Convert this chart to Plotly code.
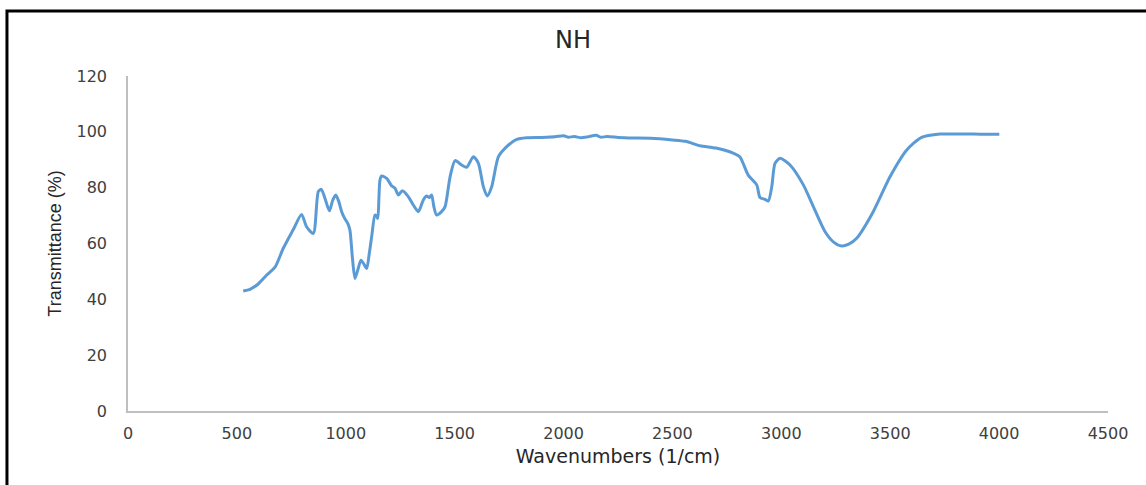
import plotly.graph_objects as go

# IR spectrum of the NH sample: wavenumber (1/cm) vs transmittance (%)
wavenumber = [
    529, 560, 598, 637, 675, 713, 759, 797, 820, 851,
    874, 888, 905, 925, 940, 954, 968, 981, 995, 1009,
    1019, 1030, 1042, 1055, 1070, 1084, 1096, 1108, 1119, 1134,
    1140, 1147, 1152, 1157, 1165, 1188, 1211, 1226, 1241, 1260,
    1287, 1310, 1333, 1356, 1371, 1384, 1394, 1405, 1417, 1440,
    1456, 1479, 1502, 1532, 1555, 1586, 1609, 1632, 1650, 1670,
    1701, 1739, 1785, 1830, 1900, 1960, 2000, 2020, 2050, 2080,
    2110, 2150, 2170, 2200, 2250, 2300, 2400, 2500, 2560, 2627,
    2700, 2779, 2810, 2848, 2887, 2902, 2925, 2940, 2956, 2971,
    2994, 3040, 3101, 3147, 3201, 3240, 3277, 3310, 3346, 3422,
    3499, 3576, 3644, 3729, 3800, 3882, 3950, 4001,
]
transmittance = [
    43.0, 43.6, 45.5, 48.7, 51.5, 58.3, 65.0, 70.4, 66.0, 63.6,
    78.6, 79.4, 76.0, 71.7, 75.5, 77.4, 75.0, 71.4, 69.0, 67.2,
    64.8, 55.3, 47.5, 50.5, 54.0, 52.5, 51.0, 56.5, 62.5, 70.2,
    70.0, 69.0, 76.0, 82.7, 84.2, 83.3, 80.6, 79.8, 77.4, 78.9,
    76.8, 73.8, 71.4, 75.6, 77.0, 76.5, 77.4, 73.0, 70.2, 71.4,
    73.2, 83.9, 89.7, 88.1, 87.3, 91.1, 88.7, 80.3, 77.0, 80.3,
    91.1, 94.7, 97.3, 97.9, 98.0, 98.2, 98.6, 98.1, 98.3, 97.9,
    98.2, 98.8, 98.1, 98.3, 98.0, 97.8, 97.7, 97.1, 96.6, 95.0,
    94.2, 92.4, 91.0, 84.5, 81.0, 76.5, 75.8, 75.2, 80.3, 88.7,
    90.5, 88.1, 81.0, 73.2, 64.2, 60.5, 59.1, 59.8, 61.9, 71.4,
    83.9, 93.5, 98.0, 99.2, 99.2, 99.2, 99.1, 99.1,
]

x_ticks = [0, 500, 1000, 1500, 2000, 2500, 3000, 3500, 4000, 4500]
y_ticks = [0, 20, 40, 60, 80, 100, 120]

fig = go.Figure(
    go.Scatter(
        x=wavenumber,
        y=transmittance,
        mode="lines",
        line=dict(color="#5B9BD5", width=3, shape="spline", smoothing=0.7),
        showlegend=False,
    )
)

axis_font = dict(family="DejaVu Sans", size=16, color="#404040")

fig.update_layout(
    width=1146,
    height=485,
    margin=dict(l=128, r=38, t=76, b=74),
    paper_bgcolor="white",
    plot_bgcolor="white",
    title=dict(
        text="NH",
        x=0.5,
        xanchor="center",
        y=0.918,
        yanchor="middle",
        font=dict(family="DejaVu Sans", size=24, color="#262626"),
    ),
    xaxis=dict(
        range=[0, 4500],
        tickvals=x_ticks,
        ticktext=[str(v) for v in x_ticks],
        showgrid=False,
        zeroline=False,
        showline=True,
        linecolor="#BFBFBF",
        linewidth=1.5,
        ticks="",
        ticklabelstandoff=7,
        tickfont=axis_font,
        title=dict(
            text="Wavenumbers (1/cm)",
            font=dict(family="DejaVu Sans", size=19, color="#262626"),
            standoff=8,
        ),
    ),
    yaxis=dict(
        range=[0, 120],
        tickvals=y_ticks,
        ticktext=[str(v) for v in y_ticks],
        showgrid=False,
        zeroline=False,
        showline=True,
        linecolor="#BFBFBF",
        linewidth=1.5,
        ticks="",
        ticklabelstandoff=16,
        tickfont=axis_font,
        title=dict(
            text="Transmittance (%)",
            font=dict(family="Liberation Sans", size=18, color="#262626"),
            standoff=10,
        ),
    ),
    shapes=[
        # black frame around the chart area
        dict(
            type="rect",
            xref="paper",
            yref="paper",
            x0=-0.1235,
            x1=1.25,
            y0=-0.4,
            y1=1.194,
            line=dict(color="black", width=3),
            fillcolor="rgba(0,0,0,0)",
            layer="above",
        )
    ],
)

fig.write_html("out.html")
